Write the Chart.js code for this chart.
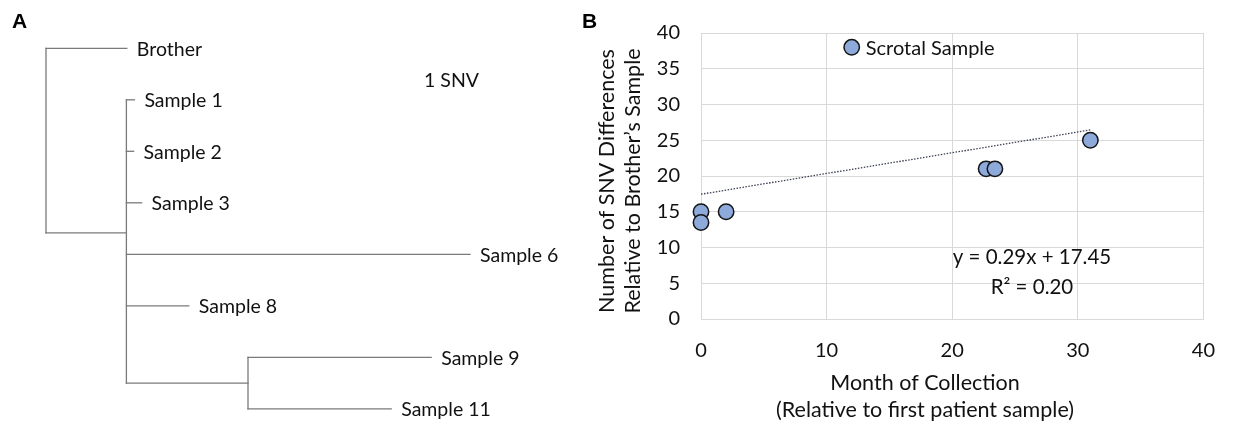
<!DOCTYPE html>
<html>
<head>
<meta charset="utf-8">
<script src="https://cdn.jsdelivr.net/npm/chart.js@4.4.0/dist/chart.umd.min.js"></script>
<style>
  html, body { margin: 0; padding: 0; background: #fff; }
  #wrap { position: relative; width: 1235px; height: 429px; overflow: hidden; }
  #treeChart { position: absolute; left: 0; top: 0; }
  #scatterChart { position: absolute; left: 580px; top: 0; }
  .panel { position: absolute; font-family: "Liberation Sans", Arial, sans-serif; font-weight: bold;
           font-size: 21px; line-height: 21px; color: #000; }
</style>
</head>
<body>
<div id="wrap">
  <canvas id="treeChart" width="580" height="429"></canvas>
  <canvas id="scatterChart" width="655" height="429"></canvas>
  <div class="panel" style="left:12px;top:10px">A</div>
  <div class="panel" style="left:582px;top:10px">B</div>
</div>
<script>
/* ---------------- DATA ---------------- */

// panel A: tree (parent of each node, branch length in SNV-like units)
const nodeNames = ["root", "Brother", "clade", "Sample 1", "Sample 2", "Sample 3", "Sample 6", "Sample 8", "sub", "Sample 9", "Sample 11"];
const nodeParents = [null, "root", "root", "clade", "clade", "clade", "clade", "clade", "clade", "sub", "sub"];
const branchLengths = [0, 10.1, 10.05, 1, 0.9, 1.9, 42.95, 7.8, 15.2, 22.9, 17.9];
const leafOrder = ["Brother", "Sample 1", "Sample 2", "Sample 3", "Sample 6", "Sample 8", "Sample 9", "Sample 11"];
const scaleLabel = "1 SNV";

// panel B: scatter
const months = [0, 0, 2, 12, 22.7, 23.4, 31];
const snvDiffs = [15, 13.5, 15, 38, 21, 21, 25];
const pointNames = ["", "", "", "Scrotal Sample", "", "", ""];
const trendSlope = 0.29;
const trendIntercept = 17.45;
const trendR2 = 0.20;
const xTicks = [0, 10, 20, 30, 40];
const yTicks = [0, 5, 10, 15, 20, 25, 30, 35, 40];
const xTitle = ["Month of Collection", "(Relative to first patient sample)"];
const yTitle = ["Number of SNV Differences", "Relative to Brother\u2019s Sample"];

const FONT = "Lato";
const TEXT = "#111";
const GRID = "#d9d9d9";

/* ---------------- TREE LAYOUT ---------------- */

function layoutTree() {
  const nodes = {};
  nodeNames.forEach((n, i) => {
    nodes[n] = { name: n, parent: nodeParents[i], len: branchLengths[i], children: [] };
  });
  nodeNames.forEach(n => {
    const p = nodes[n].parent;
    if (p) nodes[p].children.push(n);
  });

  function setX(n, x0) {
    const nd = nodes[n];
    nd.x = x0 + nd.len;
    nd.children.forEach(c => setX(c, nd.x));
  }
  function setY(n) {
    const nd = nodes[n];
    if (!nd.children.length) {
      nd.y = leafOrder.indexOf(n);
    } else {
      nd.children.forEach(setY);
      nd.y = nd.children.reduce((a, c) => a + nodes[c].y, 0) / nd.children.length;
    }
  }
  setX("root", 0);
  setY("root");
  return nodes;
}

const treeNodes = layoutTree();

function treeSegments() {
  const segs = [];
  nodeNames.forEach(n => {
    const nd = treeNodes[n];
    if (nd.parent) {
      const p = treeNodes[nd.parent];
      segs.push([{ x: p.x, y: nd.y }, { x: nd.x, y: nd.y }]);
    }
    if (nd.children.length) {
      const ys = nd.children.map(c => treeNodes[c].y);
      segs.push([{ x: nd.x, y: Math.min(...ys) }, { x: nd.x, y: Math.max(...ys) }]);
    }
  });
  return segs;
}

/* ---------------- PLUGINS ---------------- */

const treeLabels = {
  id: "treeLabels",
  afterDatasetsDraw(chart) {
    const { ctx, scales: { x, y } } = chart;
    ctx.save();
    ctx.font = "19.5px " + FONT;
    ctx.fillStyle = TEXT;
    ctx.textBaseline = "middle";
    ctx.textAlign = "left";
    leafOrder.forEach(n => {
      const nd = treeNodes[n];
      ctx.fillText(n, x.getPixelForValue(nd.x) + 10, y.getPixelForValue(nd.y) + 1);
    });
    ctx.fillText(scaleLabel, x.getPixelForValue(47.25), y.getPixelForValue(0.62));
    ctx.restore();
  }
};

const scatterText = {
  id: "scatterText",
  afterDatasetsDraw(chart) {
    const { ctx, chartArea, scales: { x, y } } = chart;
    ctx.save();
    ctx.fillStyle = TEXT;
    ctx.textBaseline = "middle";

    ctx.font = "20px " + FONT;
    ctx.textAlign = "left";
    months.forEach((m, i) => {
      if (!pointNames[i]) return;
      ctx.fillText(pointNames[i], x.getPixelForValue(m) + 14, y.getPixelForValue(snvDiffs[i]) + 1.5);
    });

    ctx.font = "20.5px " + FONT;
    ctx.textAlign = "center";
    const ex = x.getPixelForValue(26.35);
    ctx.fillText("y = " + trendSlope.toFixed(2) + "x + " + trendIntercept.toFixed(2), ex, y.getPixelForValue(8.6));
    ctx.fillText("R\u00B2 = " + trendR2.toFixed(2), ex, y.getPixelForValue(4.44));

    // axis titles, two lines each
    ctx.font = "21.5px " + FONT;
    ctx.fillText(xTitle[0], 345, chartArea.bottom + 64);
    ctx.fillText(xTitle[1], 345, chartArea.bottom + 91);

    ctx.translate(0, 181);
    ctx.rotate(-Math.PI / 2);
    ctx.fillText(yTitle[0], 0, 27);
    ctx.fillText(yTitle[1], 0, 53);
    ctx.restore();
  }
};

/* ---------------- CHARTS ---------------- */

function drawTree() {
  new Chart(document.getElementById("treeChart"), {
    type: "scatter",
    data: {
      datasets: treeSegments().map(s => ({
        data: s,
        showLine: true,
        borderColor: "#7a7a7a",
        borderWidth: 1.3,
        borderCapStyle: "square",
        pointRadius: 0,
        pointHoverRadius: 0
      }))
    },
    options: {
      responsive: false,
      animation: false,
      events: [],
      layout: { padding: 0 },
      plugins: { legend: { display: false }, tooltip: { enabled: false } },
      scales: {
        x: { type: "linear", display: false, min: -5.75, max: 66.75 },
        y: { type: "linear", display: false, reverse: true, min: -0.938, max: 7.392 }
      }
    },
    plugins: [treeLabels]
  });
}

function drawScatter() {
  const xEnd = Math.max(...months);
  new Chart(document.getElementById("scatterChart"), {
    type: "scatter",
    data: {
      datasets: [
        {
          data: months.map((m, i) => ({ x: m, y: snvDiffs[i] })),
          pointRadius: 7.7,
          pointHoverRadius: 7.7,
          backgroundColor: "#8eaadb",
          borderColor: "#141414",
          borderWidth: 1.5,
          clip: false
        },
        {
          data: [
            { x: 0, y: trendIntercept },
            { x: xEnd, y: trendSlope * xEnd + trendIntercept }
          ],
          showLine: true,
          pointRadius: 0,
          borderColor: "#3a3f55",
          borderWidth: 1.3,
          borderDash: [1.5, 1.5]
        }
      ]
    },
    options: {
      responsive: false,
      animation: false,
      events: [],
      layout: { padding: { top: 31, right: 23, left: 0, bottom: 0 } },
      plugins: { legend: { display: false }, tooltip: { enabled: false } },
      scales: {
        x: {
          type: "linear", min: 0, max: 40,
          afterBuildTicks: s => { s.ticks = xTicks.map(v => ({ value: v })); },
          afterFit: s => { s.height = 110; },
          grid: { color: GRID, drawTicks: false },
          border: { color: GRID },
          ticks: { padding: 20, color: TEXT, font: { family: FONT, size: 20 } }
        },
        y: {
          type: "linear", min: 0, max: 40,
          afterBuildTicks: s => { s.ticks = yTicks.map(v => ({ value: v })); },
          afterFit: s => { s.width = 121; },
          grid: { color: GRID, drawTicks: false },
          border: { color: GRID },
          ticks: { padding: 21, color: TEXT, font: { family: FONT, size: 20 } }
        }
      }
    },
    plugins: [scatterText]
  });
}

document.fonts.ready.then(() => {
  drawTree();
  drawScatter();
});
</script>
</body>
</html>
